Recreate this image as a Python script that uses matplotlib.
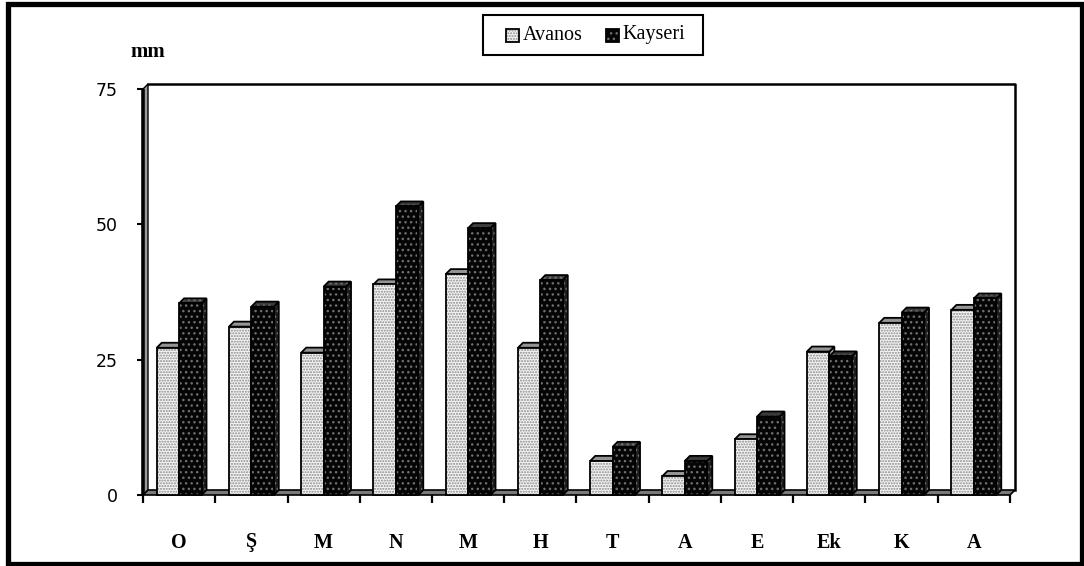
import matplotlib
matplotlib.use("Agg")
import matplotlib.pyplot as plt
from matplotlib.patches import Polygon, Rectangle

# Monthly precipitation (mm)
months = ["O", "Ş", "M", "N", "M", "H", "T", "A", "E", "Ek", "K", "A"]
avanos = [27.2, 31.1, 26.3, 38.9, 40.8, 27.2, 6.3, 3.5, 10.3, 26.5, 31.8, 34.2]
kayseri = [35.4, 34.8, 38.5, 53.3, 49.3, 39.7, 8.9, 6.3, 14.5, 25.6, 33.7, 36.3]
series_names = ["Avanos", "Kayseri"]
y_ticks = [0, 25, 50, 75]
y_max = 75

plt.rcParams["hatch.linewidth"] = 1.0

W, H = 1084, 566
fig = plt.figure(figsize=(W / 100, H / 100), dpi=100)
ax = fig.add_axes([143 / W, (H - 495) / H, 867 / W, 406 / H])
n = len(months)
ax.set_xlim(0, n)
ax.set_ylim(0, y_max)
for s in ax.spines.values():
    s.set_visible(False)

# depth of the pseudo-3D extrusion, in data units
px_x = 867 / n
px_y = 406 / y_max
DX = 5 / px_x
DY = 5 / px_y

# walls and floor
left_wall = Polygon([(0, 0), (DX, DY), (DX, y_max + DY), (0, y_max)],
                    closed=True, facecolor="#9a9a9a", edgecolor="black",
                    lw=1.0, clip_on=False, zorder=1)
floor = Polygon([(0, 0), (n, 0), (n + DX, DY), (DX, DY)], closed=True,
                facecolor="#7a7a7a", edgecolor="black", lw=1.2,
                clip_on=False, zorder=1)
ax.add_patch(left_wall)
ax.add_patch(floor)
ax.plot([DX, n + DX, n + DX], [y_max + DY, y_max + DY, DY], color="black",
        lw=1.8, clip_on=False, zorder=1)
ax.plot([0, 0], [0, y_max], color="black", lw=2.6, clip_on=False, zorder=2,
        solid_capstyle="butt")

styles = {
    "Avanos": dict(front="#f4f4f4", hatch_col="#8a8a8a", hatch="......",
                   top="#9a9a9a", side="#b0b0b0"),
    "Kayseri": dict(front="#050505", hatch_col="#6e6e6e", hatch="...",
                    top="#3a3a3a", side="#1e1e1e"),
}

BAR_W = 0.31
offsets = [0.19, 0.50]


def add_face(pts, face, hatch, hcol, z):
    ax.add_patch(Polygon(pts, closed=True, facecolor=face, edgecolor=hcol,
                         hatch=hatch, lw=0, clip_on=False, zorder=z))
    ax.add_patch(Polygon(pts, closed=True, fill=False, edgecolor="black",
                         lw=1.3, clip_on=False, zorder=z + 0.01))


for i in range(n):
    for k, (name, vals) in enumerate(zip(series_names, [avanos, kayseri])):
        st = styles[name]
        v = vals[i]
        x0 = i + offsets[k]
        x1 = x0 + BAR_W
        z = 3 + i * 0.1 + k * 0.05
        side = [(x1, 0), (x1 + DX, DY), (x1 + DX, v + DY), (x1, v)]
        top = [(x0, v), (x1, v), (x1 + DX, v + DY), (x0 + DX, v + DY)]
        add_face(side, st["side"], st["hatch"], st["hatch_col"], z)
        add_face(top, st["top"], st["hatch"], st["hatch_col"], z + 0.02)
        # front face drawn with the bar primitive
        ax.bar(x0, v, BAR_W, align="edge", color=st["front"],
               edgecolor=st["hatch_col"], hatch=st["hatch"], lw=0,
               zorder=z + 0.03, clip_on=False)
        ax.bar(x0, v, BAR_W, align="edge", fill=False, edgecolor="black",
               lw=1.3, zorder=z + 0.04, clip_on=False)

# axes ticks and labels
ax.set_yticks(y_ticks)
ax.set_yticklabels([str(t) for t in y_ticks], fontfamily="DejaVu Sans",
                   fontsize=12.5)
ax.tick_params(axis="y", length=4, width=1.5, pad=14, direction="out")

ax.set_xticks(range(n + 1))
ax.set_xticklabels([])
ax.tick_params(axis="x", which="major", length=6, width=1.6, direction="out",
               pad=2)
ax.set_xticks([i + 0.5 for i in range(n)], minor=True)
ax.set_xticklabels(months, minor=True, fontfamily="Liberation Serif",
                   fontweight="bold", fontsize=14.5)
ax.tick_params(axis="x", which="minor", length=0, pad=27)

fig.text(148 / W, 1 - 52 / H, "mm", fontfamily="Liberation Serif",
         fontweight="bold", fontsize=15, ha="center", va="center")

# legend
fig.add_artist(Rectangle((483 / W, 1 - 55 / H), 220 / W, 40 / H,
                         transform=fig.transFigure, fill=False,
                         edgecolor="black", lw=1.5))
leg_items = [(506, 523), (606, 622)]
for (mx, tx), name in zip(leg_items, series_names):
    st = styles[name]
    sq = (mx / W, 1 - 42 / H)
    fig.add_artist(Rectangle(sq, 13 / W, 13 / H, transform=fig.transFigure,
                             facecolor=st["front"], edgecolor=st["hatch_col"],
                             hatch=st["hatch"], lw=0))
    fig.add_artist(Rectangle(sq, 13 / W, 13 / H, transform=fig.transFigure,
                             fill=False, edgecolor="black", lw=1.3))
    fig.text(tx / W, 1 - 35 / H, name, fontfamily="Liberation Serif",
             fontsize=14.5, ha="left", va="center")

# outer frame
fig.add_artist(Rectangle((8 / W, 2.5 / H), 1074 / W, 560 / H,
                         transform=fig.transFigure, fill=False,
                         edgecolor="black", lw=3.8))

fig.savefig("out.png", dpi=100)
